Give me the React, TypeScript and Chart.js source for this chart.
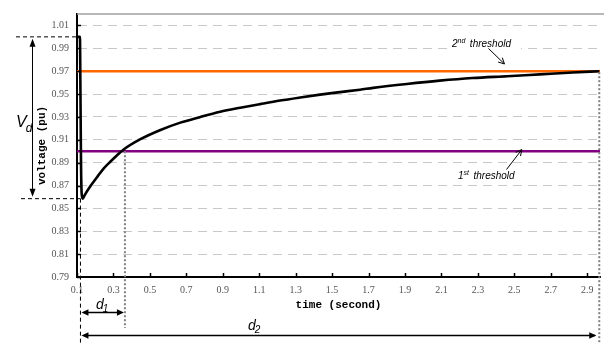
import React, { useEffect, useRef } from 'react';
import { Chart, registerables } from 'chart.js';

Chart.register(...registerables);

// ---- data ----
const timeSeconds = [
  0.1, 0.116, 0.119, 0.122, 0.126, 0.132, 0.14, 0.174, 0.211, 0.247, 0.284, 0.32, 0.356,
  0.448, 0.558, 0.667, 0.777, 0.886, 0.996, 1.105, 1.215, 1.325, 1.434, 1.544, 1.653,
  1.725, 1.91, 2.09, 2.27, 2.46, 2.64, 2.82, 2.966,
];
const voltagePu = [
  1.0, 1.0, 0.95, 0.89, 0.862, 0.8585, 0.861, 0.8695, 0.8775, 0.885, 0.891, 0.8965, 0.9015,
  0.9105, 0.9186, 0.925, 0.93, 0.9345, 0.938, 0.9412, 0.9443, 0.947, 0.9495, 0.9517, 0.9538,
  0.9554, 0.9588, 0.9617, 0.964, 0.9656, 0.9672, 0.9688, 0.97,
];
const firstThreshold = 0.9;
const secondThreshold = 0.97;
const xRange = [0.1, 2.97];
const yRange = [0.79, 1.02];
const xTickValues = [0.1, 0.3, 0.5, 0.7, 0.9, 1.1, 1.3, 1.5, 1.7, 1.9, 2.1, 2.3, 2.5, 2.7, 2.9];
const yTickValues = [0.79, 0.81, 0.83, 0.85, 0.87, 0.89, 0.91, 0.93, 0.95, 0.97, 0.99, 1.01];
const faultTime = 0.119;
const firstCrossTime = 0.363;
const secondCrossTime = 2.966;
const preFaultVoltage = 1.0;
const minVoltage = 0.8585;

function arrowHead(ctx: CanvasRenderingContext2D, x: number, y: number, ang: number, len = 7, half = 3) {
  const c = Math.cos(ang), s = Math.sin(ang);
  ctx.beginPath();
  ctx.moveTo(x, y);
  ctx.lineTo(x - len * c + half * s, y - len * s - half * c);
  ctx.lineTo(x - len * c - half * s, y - len * s + half * c);
  ctx.closePath();
  ctx.fill();
}

function openHead(ctx: CanvasRenderingContext2D, x: number, y: number, ang: number, len = 6, half = 3) {
  const c = Math.cos(ang), s = Math.sin(ang);
  ctx.beginPath();
  ctx.moveTo(x - len * c + half * s, y - len * s - half * c);
  ctx.lineTo(x, y);
  ctx.lineTo(x - len * c - half * s, y - len * s + half * c);
  ctx.stroke();
}

function seg(ctx: CanvasRenderingContext2D, x1: number, y1: number, x2: number, y2: number) {
  ctx.beginPath();
  ctx.moveTo(x1, y1);
  ctx.lineTo(x2, y2);
  ctx.stroke();
}

function supText(ctx: CanvasRenderingContext2D, x: number, base: number, main: string, sup: string, rest: string, gap: number) {
  ctx.font = 'italic 10px "Liberation Sans"';
  ctx.fillText(main, x, base);
  let cx = x + ctx.measureText(main).width;
  ctx.font = 'italic 7px "Liberation Sans"';
  ctx.fillText(sup, cx, base - 4);
  cx += ctx.measureText(sup).width + gap;
  ctx.font = 'italic 10px "Liberation Sans"';
  ctx.fillText(rest, cx, base);
}

function subText(ctx: CanvasRenderingContext2D, x: number, base: number, main: string, sub: string, size: number, subSize: number, dy: number) {
  ctx.font = `italic ${size}px "Liberation Sans"`;
  ctx.fillText(main, x, base);
  const w = ctx.measureText(main).width;
  ctx.font = `italic ${subSize}px "Liberation Sans"`;
  ctx.fillText(sub, x + w - 1, base + dy);
}

const annotate = {
  id: 'annotate',
  afterDatasetsDraw(chart: any) {
    const { ctx, chartArea: a, scales } = chart;
    const xs = scales.x, ys = scales.y;
    ctx.save();
    // top frame line
    ctx.strokeStyle = '#a0a0a0';
    ctx.lineWidth = 1.5;
    seg(ctx, a.left, a.top, 604, a.top);
    // inward tick marks
    ctx.strokeStyle = '#000';
    ctx.lineWidth = 1.5;
    ys.ticks.forEach((t: any) => {
      const py = Math.round(ys.getPixelForValue(t.value)) + 0.5;
      seg(ctx, a.left, py, a.left + 4, py);
    });
    xs.ticks.forEach((t: any) => {
      const px = Math.round(xs.getPixelForValue(t.value)) + 0.5;
      seg(ctx, px, a.bottom, px, a.bottom - 4);
    });

    const yTop = ys.getPixelForValue(preFaultVoltage);
    const yMin = ys.getPixelForValue(minVoltage);
    const xFault = xs.getPixelForValue(faultTime);
    const x1 = xs.getPixelForValue(firstCrossTime);
    const x2 = xs.getPixelForValue(secondCrossTime);
    const y1 = ys.getPixelForValue(firstThreshold);
    const y2 = ys.getPixelForValue(secondThreshold);

    // V_d dashed guides
    ctx.strokeStyle = '#000';
    ctx.lineWidth = 1;
    ctx.setLineDash([4, 3]);
    seg(ctx, 16, yTop, a.left, yTop);
    seg(ctx, 21, yMin, xFault, yMin);
    // d2 left dashed vertical
    seg(ctx, xFault, yMin, xFault, 343);
    ctx.setLineDash([]);

    // gray dotted verticals
    ctx.strokeStyle = '#808080';
    ctx.lineWidth = 2;
    ctx.setLineDash([2, 2]);
    seg(ctx, x1, y1, x1, 328);
    seg(ctx, x2, y2 + 1, x2, 343);
    ctx.setLineDash([]);

    // V_d arrow
    ctx.fillStyle = '#000';
    ctx.strokeStyle = '#000';
    ctx.lineWidth = 1;
    seg(ctx, 32.5, yTop + 6, 32.5, yMin - 6);
    arrowHead(ctx, 32.5, yTop + 2, -Math.PI / 2, 8, 3);
    arrowHead(ctx, 32.5, yMin - 2, Math.PI / 2, 8, 3);
    ctx.textBaseline = 'alphabetic';
    ctx.textAlign = 'left';
    subText(ctx, 16, 127, 'V', 'd', 16, 12, 5);

    // d1 arrow
    ctx.lineWidth = 1.5;
    seg(ctx, xFault + 4, 312.5, x1 - 4, 312.5);
    arrowHead(ctx, xFault + 1, 312.5, Math.PI, 7, 3.2);
    arrowHead(ctx, x1 - 1, 312.5, 0, 7, 3.2);
    subText(ctx, 96, 308.5, 'd', '1', 14, 10, 3);

    // d2 arrow
    seg(ctx, xFault + 4, 335.5, x2 - 4, 335.5);
    arrowHead(ctx, xFault + 1, 335.5, Math.PI, 7, 3.2);
    arrowHead(ctx, x2 - 3, 335.5, 0, 7, 3.2);
    subText(ctx, 248, 329.5, 'd', '2', 14, 10, 3);

    // threshold labels
    ctx.fillStyle = '#fff';
    ctx.fillRect(448, 36, 73, 13);
    ctx.fillStyle = '#000';
    supText(ctx, 452, 46.5, '2', 'nd', 'threshold', 4.5);
    ctx.lineWidth = 1;
    seg(ctx, 488.5, 48.5, 504, 63.5);
    openHead(ctx, 504.5, 64, Math.atan2(15, 15.5), 6, 3);

    supText(ctx, 458, 178.5, '1', 'st', 'threshold', 4.5);
    seg(ctx, 506.5, 169.5, 521.5, 150);
    openHead(ctx, 521.8, 149.5, Math.atan2(-19.5, 15), 6, 3);

    ctx.restore();
  },
};

export default function App() {
  const ref = useRef<HTMLCanvasElement | null>(null);
  useEffect(() => {
    if (!ref.current) return;
    const curve = timeSeconds.map((t, i) => ({ x: t, y: voltagePu[i] }));
    const chart = new Chart(ref.current, {
      type: 'line',
      data: {
        datasets: [
          {
            data: curve,
            borderColor: '#000',
            borderWidth: 2.6,
            pointRadius: 0,
            cubicInterpolationMode: 'monotone',
            order: 0,
          } as any,
          {
            data: xRange.map((t) => ({ x: t, y: secondThreshold })),
            borderColor: '#ff6600',
            borderWidth: 2.5,
            pointRadius: 0,
            order: 1,
          },
          {
            data: xRange.map((t) => ({ x: t, y: firstThreshold })),
            borderColor: '#800080',
            borderWidth: 2.5,
            pointRadius: 0,
            order: 2,
          },
        ],
      },
      options: {
        responsive: false,
        animation: false,
        layout: { padding: { left: 0, top: 9, right: 4, bottom: 0 } },
        plugins: { legend: { display: false }, tooltip: { enabled: false } },
        scales: {
          x: {
            type: 'linear',
            min: xRange[0],
            max: xRange[1],
            afterBuildTicks: (s: any) => {
              s.ticks = xTickValues.map((v) => ({ value: v }));
            },
            afterFit: (s: any) => {
              s.height = 66;
            },
            grid: { display: false, drawTicks: false },
            border: { display: true, color: '#000', width: 2 },
            ticks: {
              padding: 7,
              color: '#555',
              autoSkip: false,
              maxRotation: 0,
              font: { family: '"Liberation Serif"', size: 10 },
              callback: (v: any) => Number(v).toFixed(1),
            },
            title: {
              display: true,
              text: 'time (second)',
              color: '#000',
              font: { family: '"Liberation Mono"', size: 11, weight: 'bold' },
              padding: { top: 0, bottom: 31 },
            },
          },
          y: {
            type: 'linear',
            min: yRange[0],
            max: yRange[1],
            afterBuildTicks: (s: any) => {
              s.ticks = yTickValues.map((v) => ({ value: v }));
            },
            afterFit: (s: any) => {
              s.width = 77;
            },
            grid: {
              drawTicks: false,
              lineWidth: 1,
              color: (c: any) => (c.tick && c.tick.value < 0.8 ? 'rgba(0,0,0,0)' : '#c8c8c8'),
            },
            border: { display: true, color: '#000', width: 2, dash: [9, 6] },
            ticks: {
              padding: 8,
              color: '#555',
              autoSkip: false,
              font: { family: '"Liberation Serif"', size: 10 },
              callback: (v: any) => Number(v).toFixed(2),
            },
            title: {
              display: true,
              text: 'voltage (pu)',
              color: '#000',
              font: { family: '"Liberation Mono"', size: 11, weight: 'bold' },
              padding: { top: 36, bottom: 0 },
            },
          },
        },
      },
      plugins: [annotate],
    } as any);
    return () => chart.destroy();
  }, []);
  return (
    <div style={{ position: 'fixed', left: 0, top: 0, width: 604, height: 343, background: '#fff' }}>
      <canvas ref={ref} width={604} height={343} style={{ display: 'block' }} />
    </div>
  );
}
